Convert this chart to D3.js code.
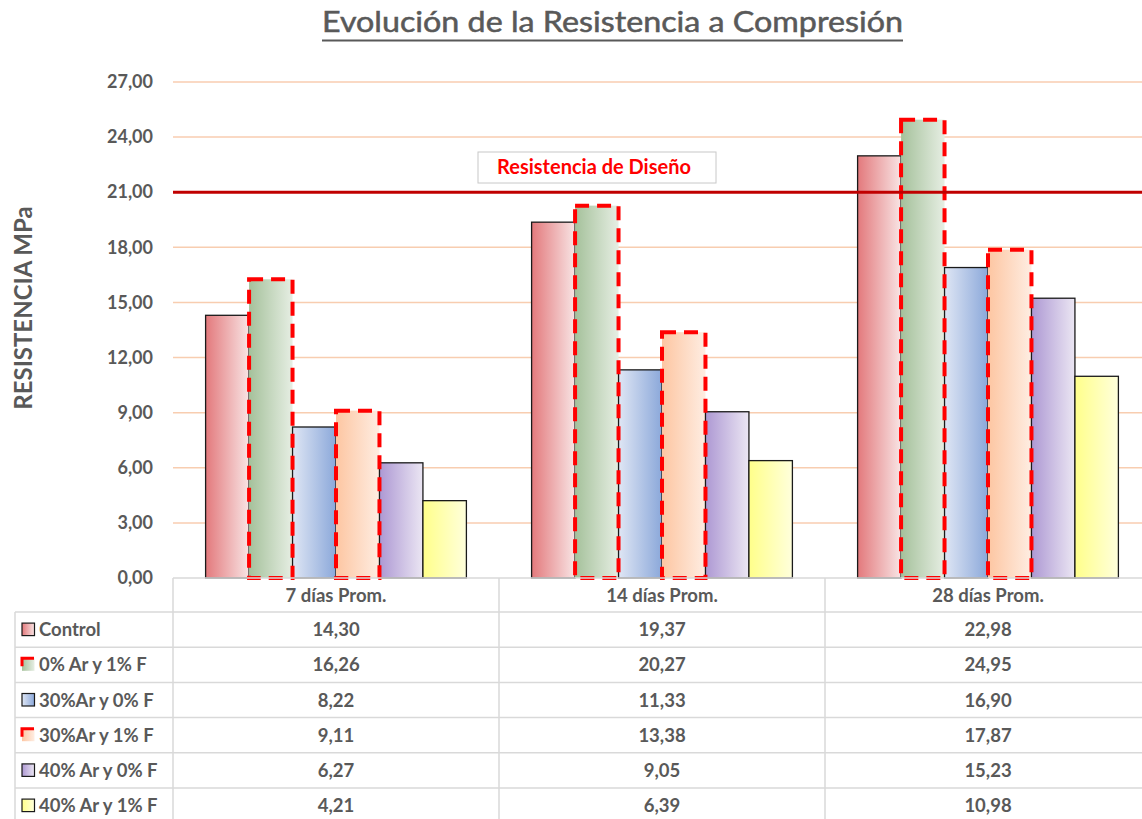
<!DOCTYPE html>
<html><head><meta charset="utf-8">
<script src="https://cdnjs.cloudflare.com/ajax/libs/d3/7.8.5/d3.min.js"></script>
<style>body{margin:0;background:#fff;}svg{display:block;font-family:Lato,"Open Sans",sans-serif;}</style>
</head><body><svg id="c" width="1142" height="819"></svg>
<script>
const categories = ["7 días Prom.", "14 días Prom.", "28 días Prom."];
const seriesNames = ["Control", "0% Ar y 1% F", "30%Ar y 0% F", "30%Ar y 1% F", "40% Ar y 0% F", "40% Ar y 1% F"];
const control = [14.30, 19.37, 22.98];
const ar0f1 = [16.26, 20.27, 24.95];
const ar30f0 = [8.22, 11.33, 16.90];
const ar30f1 = [9.11, 13.38, 17.87];
const ar40f0 = [6.27, 9.05, 15.23];
const ar40f1 = [4.21, 6.39, 10.98];
const yTicks = [0, 3, 6, 9, 12, 15, 18, 21, 24, 27];
const designValue = 21;
const designLabel = "Resistencia de Diseño";
const title = "Evolución de la Resistencia a Compresión";
const yTitle = "RESISTENCIA MPa";

const seriesValues = [control, ar0f1, ar30f0, ar30f1, ar40f0, ar40f1];
const styles = [
  {c0:"#e3797c", c1:"#f8e4e4", dashed:false},
  {c0:"#a5c19b", c1:"#e6eee3", dashed:true},
  {c0:"#dfe6f4", c1:"#8ba8da", dashed:false},
  {c0:"#fdc6a2", c1:"#feede2", dashed:true},
  {c0:"#ad98d3", c1:"#ebe6f3", dashed:false},
  {c0:"#ffff8a", c1:"#ffffdc", dashed:false}
];
const txt = "#595959";
const svg = d3.select("#c");
const defs = svg.append("defs");
styles.forEach((s,i)=>{
  const g = defs.append("linearGradient").attr("id","g"+i).attr("x1","0").attr("x2","1").attr("y1","0").attr("y2","0");
  g.append("stop").attr("offset","0").attr("stop-color",s.c0);
  g.append("stop").attr("offset","1").attr("stop-color",s.c1);
});

const y = d3.scaleLinear().domain([0,27]).range([578,82]);
const x0 = d3.scaleBand().domain(categories).range([173,1151]).paddingInner(0.2).paddingOuter(0.1);
const x1 = d3.scaleBand().domain(seriesNames).range([0,x0.bandwidth()]);

// title
svg.append("text").attr("x",322).attr("y",32).attr("textLength",581).attr("lengthAdjust","spacingAndGlyphs")
  .attr("font-size",28).attr("fill",txt).attr("stroke",txt).attr("stroke-width",0.5).text(title);
svg.append("line").attr("x1",322).attr("x2",903).attr("y1",40.5).attr("y2",40.5)
  .attr("stroke",txt).attr("stroke-width",2);

// gridlines
const gridTicks = yTicks.filter(v=>v>0);
svg.append("g").selectAll("line").data(gridTicks).join("line")
  .attr("x1",173).attr("x2",1151).attr("y1",d=>y(d)).attr("y2",d=>y(d))
  .attr("stroke","#f8cdb0").attr("stroke-width",1.5);

// y axis tick labels
const yAxis = d3.axisLeft(y).tickValues(yTicks).tickSize(0).tickPadding(0)
  .tickFormat(d=>d3.format(".2f")(d).replace(".",","));
const ya = svg.append("g").attr("transform","translate(153,0)").call(yAxis);
ya.select(".domain").remove();
ya.selectAll("text").attr("font-size",18).attr("font-weight","bold").attr("fill",txt)
  .attr("font-family","Lato,'Open Sans',sans-serif");

// y title
svg.append("text").attr("transform","translate(32,308) rotate(-90)").attr("text-anchor","middle")
  .attr("font-size",24).attr("font-weight","bold").attr("fill",txt).text(yTitle);

// bars
const data = [];
categories.forEach((c,ci)=>seriesNames.forEach((s,si)=>data.push({c,s,si,v:seriesValues[si][ci]})));
const bars = svg.append("g");
bars.selectAll("rect.fill").data(data).join("rect").attr("class","fill")
  .attr("x",d=>x0(d.c)+x1(d.s)).attr("width",x1.bandwidth())
  .attr("y",d=>y(d.v)).attr("height",d=>y(0)-y(d.v))
  .attr("fill",d=>"url(#g"+d.si+")")
  .attr("stroke",d=>styles[d.si].dashed?"none":"#1a1a1a").attr("stroke-width",1.3);
bars.selectAll("rect.dash").data(data.filter(d=>styles[d.si].dashed)).join("rect").attr("class","dash")
  .attr("x",d=>x0(d.c)+x1(d.s)).attr("width",x1.bandwidth())
  .attr("y",d=>y(d.v)).attr("height",d=>y(0)-y(d.v))
  .attr("fill","none").attr("stroke","#ff0000").attr("stroke-width",4)
  .attr("stroke-dasharray","14,8");

// design line
svg.append("line").attr("x1",173).attr("x2",1151).attr("y1",y(designValue)).attr("y2",y(designValue))
  .attr("stroke","#c00000").attr("stroke-width",3);
svg.append("rect").attr("x",478).attr("y",152).attr("width",238).attr("height",31)
  .attr("fill","#fff").attr("stroke","#c8c8c8").attr("stroke-width",1);
svg.append("text").attr("x",594).attr("y",174).attr("text-anchor","middle")
  .attr("font-size",20).attr("font-weight","bold").attr("fill","#ff0000").text(designLabel);

// data table
const tg = svg.append("g");
const rowH = 35.2, headTop = 578, headBot = 612;
const lineC = "#d9d9d9";
const fs = 18.5;
const colEdges = [173].concat(categories.map(c=>x0(c)+x0.bandwidth()/2+x0.step()/2));
tg.append("line").attr("x1",173).attr("x2",1151).attr("y1",headTop).attr("y2",headTop).attr("stroke",lineC).attr("stroke-width",1.5);
colEdges.forEach(xv=>tg.append("line").attr("x1",xv).attr("x2",xv).attr("y1",headTop).attr("y2",headBot+rowH*6).attr("stroke",lineC).attr("stroke-width",1.5));
tg.append("line").attr("x1",15).attr("x2",15).attr("y1",headBot).attr("y2",headBot+rowH*6).attr("stroke",lineC).attr("stroke-width",1.5);
for(let i=0;i<=6;i++){
  tg.append("line").attr("x1",15).attr("x2",1151).attr("y1",headBot+i*rowH).attr("y2",headBot+i*rowH).attr("stroke",lineC).attr("stroke-width",1.5);
}
tg.selectAll("text.h").data(categories).join("text").attr("class","h")
  .attr("x",d=>x0(d)+x0.bandwidth()/2).attr("y",headTop+24).attr("text-anchor","middle")
  .attr("font-size",fs).attr("font-weight","bold").attr("fill",txt).text(d=>d);
seriesNames.forEach((s,si)=>{
  const cy = headBot + si*rowH + rowH/2;
  tg.append("rect").attr("x",22).attr("y",cy-6.5).attr("width",12.5).attr("height",12.5)
    .attr("fill","url(#g"+si+")")
    .attr("stroke",styles[si].dashed?"#ff0000":"#1a1a1a").attr("stroke-width",styles[si].dashed?3:1.2)
    .attr("stroke-dasharray",styles[si].dashed?"12,30":null);
  tg.append("text").attr("x",39).attr("y",cy+6.5).attr("font-size",fs).attr("font-weight","bold")
    .attr("fill",txt).text(s);
  categories.forEach((c,ci)=>{
    tg.append("text").attr("x",x0(c)+x0.bandwidth()/2).attr("y",cy+6.5).attr("text-anchor","middle")
      .attr("font-size",fs).attr("font-weight","bold").attr("fill",txt)
      .text(d3.format(".2f")(seriesValues[si][ci]).replace(".",","));
  });
});
</script></body></html>
